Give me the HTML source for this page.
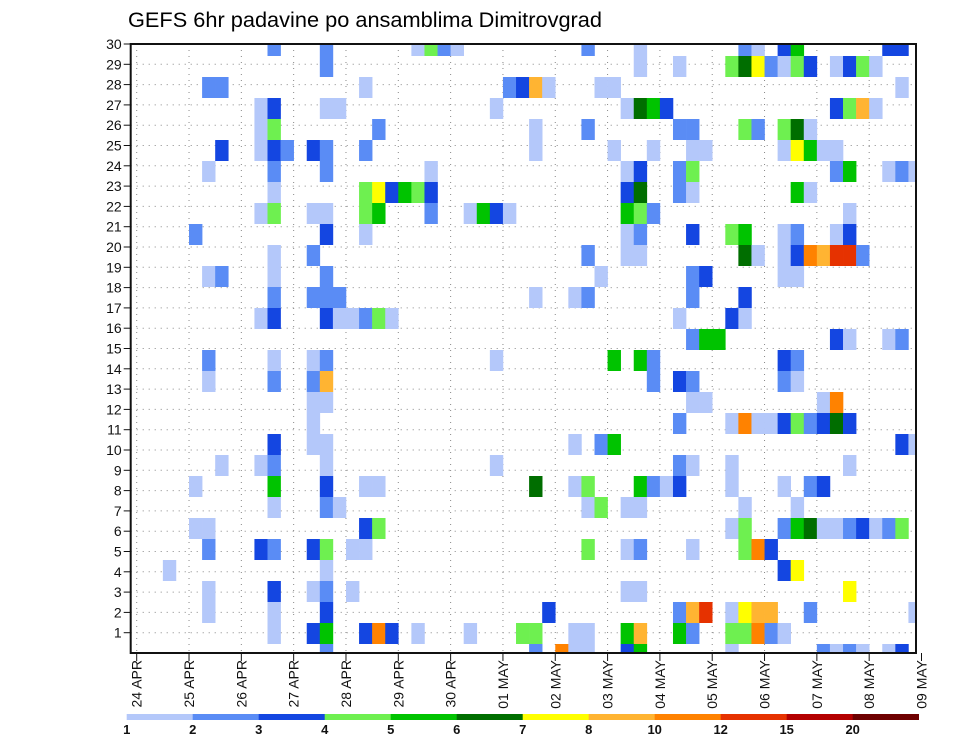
<!DOCTYPE html>
<html><head><meta charset="utf-8">
<style>
html,body{margin:0;padding:0;background:#fff;}
svg{display:block;font-family:"Liberation Sans",sans-serif;}
</style></head>
<body>
<svg id="chart" width="960" height="742" viewBox="0 0 960 742" xmlns="http://www.w3.org/2000/svg">
<defs><clipPath id="plotclip"><rect x="130.7" y="44" width="785.3" height="609"/></clipPath></defs>
<text x="128" y="27" font-size="21" textLength="474" lengthAdjust="spacingAndGlyphs">GEFS 6hr padavine po ansamblima Dimitrovgrad</text>
<g id="grid"></g>
<g id="cells" clip-path="url(#plotclip)"></g>
<g id="axes"></g>
<g id="legend"></g>
</svg>
<script>
const dayLabels = ["24 APR","25 APR","26 APR","27 APR","28 APR","29 APR","30 APR","01 MAY","02 MAY","03 MAY","04 MAY","05 MAY","06 MAY","07 MAY","08 MAY","09 MAY"];
const memberTicks = [1,2,3,4,5,6,7,8,9,10,11,12,13,14,15,16,17,18,19,20,21,22,23,24,25,26,27,28,29,30];
const levels = [1,2,3,4,5,6,7,8,10,12,15,20];
const levelColors = ["#b4c8fa","#5a8cf5","#1446e1","#6ef050","#00c300","#006e00","#ffff00","#ffb432","#ff8200","#e63200","#b40000","#6e0000"];
// precipRows[member] = [[step, mm], ...]
const precipRows = [
 [[14,2.5],[30,2.5],[32,11],[33,1.5],[34,1.5],[37,3.5],[38,5.5],[45,1.5],[52,2.5],[53,1.5],[54,2.5],[55,1.5],[57,1.5],[58,3.5]],
 [[10,1.5],[13,3.5],[14,5.5],[17,3.5],[18,11],[19,3.5],[21,1.5],[25,1.5],[29,4.5],[30,4.5],[33,1.5],[34,1.5],[37,5.5],[38,9],[41,5.5],[42,2.5],[45,4.5],[46,4.5],[47,11],[48,2.5],[49,1.5]],
 [[5,1.5],[10,1.5],[14,3.5],[31,3.5],[41,2.5],[42,9],[43,13.5],[45,1.5],[46,7.5],[47,9],[48,9],[51,2.5],[59,1.5]],
 [[5,1.5],[10,3.5],[13,1.5],[14,2.5],[16,1.5],[37,1.5],[38,1.5],[54,7.5]],
 [[2,1.5],[14,1.5],[49,3.5],[50,7.5]],
 [[5,2.5],[9,3.5],[10,2.5],[13,3.5],[14,4.5],[16,1.5],[17,1.5],[34,4.5],[37,1.5],[38,2.5],[42,1.5],[46,4.5],[47,11],[48,3.5]],
 [[4,1.5],[5,1.5],[17,3.5],[18,4.5],[45,1.5],[46,4.5],[49,2.5],[50,5.5],[51,6.5],[52,1.5],[53,1.5],[54,2.5],[55,3.5],[56,1.5],[57,2.5],[58,4.5]],
 [[10,1.5],[14,2.5],[15,1.5],[34,1.5],[35,4.5],[37,1.5],[38,1.5],[46,1.5],[50,1.5]],
 [[4,1.5],[10,5.5],[14,3.5],[17,1.5],[18,1.5],[30,6.5],[33,1.5],[34,4.5],[38,5.5],[39,2.5],[40,1.5],[41,3.5],[45,1.5],[49,1.5],[51,2.5],[52,3.5]],
 [[6,1.5],[9,1.5],[10,2.5],[14,1.5],[27,1.5],[41,2.5],[42,1.5],[45,1.5],[54,1.5]],
 [[10,3.5],[13,1.5],[14,1.5],[33,1.5],[35,2.5],[36,5.5],[58,3.5],[59,1.5]],
 [[13,1.5],[41,2.5],[45,1.5],[46,11],[47,1.5],[48,1.5],[49,3.5],[50,4.5],[51,2.5],[52,3.5],[53,6.5],[54,3.5]],
 [[13,1.5],[14,1.5],[42,1.5],[43,1.5],[52,1.5],[53,11]],
 [[5,1.5],[10,2.5],[13,2.5],[14,9],[39,2.5],[41,3.5],[42,2.5],[49,2.5],[50,1.5]],
 [[5,2.5],[10,1.5],[13,1.5],[14,2.5],[27,1.5],[36,5.5],[38,5.5],[39,2.5],[49,3.5],[50,2.5]],
 [[42,2.5],[43,5.5],[44,5.5],[53,3.5],[54,1.5],[57,1.5],[58,2.5]],
 [[9,1.5],[10,3.5],[14,3.5],[15,1.5],[16,1.5],[17,2.5],[18,4.5],[19,1.5],[41,1.5],[45,3.5],[46,1.5]],
 [[10,2.5],[13,2.5],[14,2.5],[15,2.5],[30,1.5],[33,1.5],[34,2.5],[42,2.5],[46,3.5]],
 [[5,1.5],[6,2.5],[10,1.5],[14,2.5],[35,1.5],[42,2.5],[43,3.5],[49,1.5],[50,1.5]],
 [[10,1.5],[13,2.5],[34,2.5],[37,1.5],[38,1.5],[46,6.5],[47,1.5],[49,1.5],[50,3.5],[51,11],[52,9],[53,13.5],[54,13.5],[55,2.5]],
 [[4,2.5],[14,3.5],[17,1.5],[37,1.5],[38,2.5],[42,3.5],[45,4.5],[46,5.5],[49,1.5],[50,2.5],[53,1.5],[54,3.5]],
 [[9,1.5],[10,4.5],[13,1.5],[14,1.5],[17,4.5],[18,5.5],[22,2.5],[25,1.5],[26,5.5],[27,3.5],[28,1.5],[37,5.5],[38,4.5],[39,2.5],[54,1.5]],
 [[10,1.5],[17,4.5],[18,7.5],[19,3.5],[20,5.5],[21,4.5],[22,3.5],[37,3.5],[38,6.5],[41,2.5],[42,1.5],[50,5.5],[51,1.5]],
 [[5,1.5],[10,2.5],[14,2.5],[22,1.5],[37,1.5],[38,3.5],[41,2.5],[42,4.5],[53,2.5],[54,5.5],[57,1.5],[58,2.5],[59,1.5]],
 [[6,3.5],[9,1.5],[10,3.5],[11,2.5],[13,3.5],[14,2.5],[17,2.5],[30,1.5],[36,1.5],[39,1.5],[42,1.5],[43,1.5],[49,1.5],[50,7.5],[51,5.5],[52,1.5],[53,1.5]],
 [[9,1.5],[10,4.5],[18,2.5],[30,1.5],[34,2.5],[41,2.5],[42,2.5],[46,4.5],[47,2.5],[49,4.5],[50,6.5],[51,1.5]],
 [[9,1.5],[10,3.5],[14,1.5],[15,1.5],[27,1.5],[37,1.5],[38,6.5],[39,5.5],[40,3.5],[53,3.5],[54,4.5],[55,9],[56,1.5]],
 [[5,2.5],[6,2.5],[17,1.5],[28,2.5],[29,3.5],[30,9],[31,1.5],[35,1.5],[36,1.5],[58,1.5]],
 [[14,2.5],[38,1.5],[41,1.5],[45,4.5],[46,6.5],[47,7.5],[48,2.5],[49,1.5],[50,4.5],[51,3.5],[53,1.5],[54,3.5],[55,4.5],[56,1.5]],
 [[10,2.5],[14,2.5],[21,1.5],[22,4.5],[23,2.5],[24,1.5],[34,2.5],[38,1.5],[46,2.5],[47,1.5],[49,3.5],[50,5.5],[57,3.5],[58,3.5]]
];

const NS = "http://www.w3.org/2000/svg";
const PL = 130.7, PR = 916, PT = 44, PB = 653;
const X0 = 136.7, STEP_W = 13.08, DAY_W = STEP_W * 4;
const CELL_H = 21, CELL_BASE = 644;
function xStep(s){ return X0 + s * STEP_W; }
function xDay(d){ return X0 + d * DAY_W; }
function yCellTop(m){ return CELL_BASE - CELL_H * m; }
function yTick(v){ return PB - (PB - PT) * v / 30; }
function colorFor(v){ let k = 0; for (let j = 0; j < levels.length; j++) if (v >= levels[j]) k = j; return levelColors[k]; }
function mk(tag, attrs, parent){ const e = document.createElementNS(NS, tag); for (const k in attrs) e.setAttribute(k, attrs[k]); parent.appendChild(e); return e; }

const grid = document.getElementById('grid');
memberTicks.forEach(v => {
  const y = yTick(v);
  const l = mk('line', {x1:PL, x2:PR, y1:y, y2:y, stroke:'#888', 'stroke-width':1, 'stroke-dasharray':'1 5'}, grid);
  
  
});
dayLabels.forEach((d, i) => {
  const x = xDay(i);
  if (x > PR) return;
  const l = mk('line', {x1:x, x2:x, y1:PT, y2:PB, stroke:'#888', 'stroke-width':1, 'stroke-dasharray':'1 5'}, grid);
  
  
});

const cells = document.getElementById('cells');
precipRows.forEach((row, m) => {
  row.forEach(([s, v]) => {
    const r = mk('rect', {x:xStep(s).toFixed(2), y:yCellTop(m), width:STEP_W + 0.3, height:CELL_H, fill:colorFor(v)}, cells);
    
    
  });
});

const axes = document.getElementById('axes');
const frame = mk('rect', {x:PL, y:PT, width:PR-PL, height:PB-PT, fill:'none', stroke:'#111', 'stroke-width':2}, axes);


memberTicks.forEach(v => {
  const y = yTick(v);
  const t = mk('line', {x1:PL-7, x2:PL, y1:y, y2:y, stroke:'#111', 'stroke-width':1}, axes);
  
  
  const lb = mk('text', {x:PL-9, y:y+5, 'font-size':14, 'text-anchor':'end', fill:'#111'}, axes);
  lb.textContent = String(v);
  
  
});
dayLabels.forEach((d, i) => {
  const x = xDay(i);
  const t = mk('line', {x1:x, x2:x, y1:PB, y2:PB+8, stroke:'#111', 'stroke-width':1}, axes);
  
  
  const lb = mk('text', {x:0, y:0, 'font-size':14, 'text-anchor':'end', fill:'#111', transform:'translate(' + (x+5) + ',660) rotate(-90)'}, axes);
  lb.textContent = d;
  
  
});

const legend = document.getElementById('legend');
const LX = 126.7, LW = 66;
levelColors.forEach((c, k) => {
  const r = mk('rect', {x:LX + k*LW, y:714, width:LW+0.3, height:6, fill:c}, legend);
  
  
});
levels.forEach((v, k) => {
  const t = mk('text', {x:LX + k*LW, y:734, 'font-size':13, 'font-weight':'bold', 'text-anchor':'middle', fill:'#111'}, legend);
  t.textContent = String(v);
  
  
});
</script>
</body></html>
